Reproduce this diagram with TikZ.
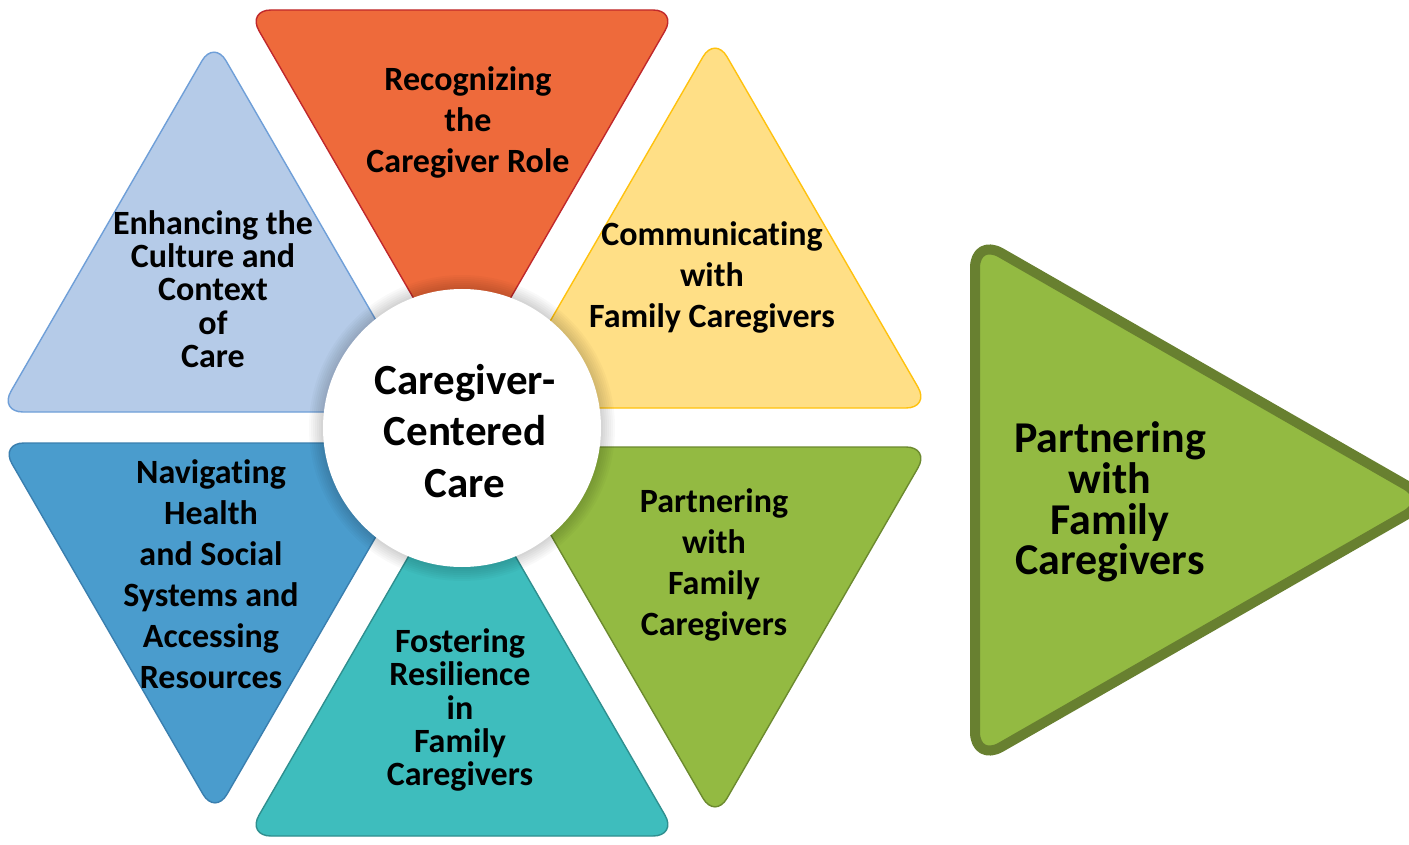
\documentclass[tikz,border=0pt]{standalone}
\usepackage{fontspec}
\setmainfont{Carlito}[Ligatures=NoCommon]
\definecolor{orangeF}{HTML}{EE6A3B}
\definecolor{orangeD}{HTML}{C0282B}
\definecolor{yellowF}{HTML}{FFDF86}
\definecolor{yellowD}{HTML}{FFC20E}
\definecolor{lblueF}{HTML}{B5CBE8}
\definecolor{lblueD}{HTML}{6F9FD8}
\definecolor{blueF}{HTML}{4A9CCD}
\definecolor{blueD}{HTML}{3A7FAF}
\definecolor{tealF}{HTML}{3EBDBD}
\definecolor{tealD}{HTML}{2F8F8F}
\definecolor{greenF}{HTML}{93BA42}
\definecolor{greenD}{HTML}{6C8A2F}
\definecolor{bigD}{HTML}{688030}
\begin{document}
\begin{tikzpicture}[x=1pt,y=-1pt,
  tri/.style={line width=1.4pt, rounded corners=24pt, line join=round},
  lbl/.style={font=\bfseries\fontsize{34}{41}\selectfont, align=center, text=black, inner sep=0pt},
  lbltight/.style={font=\bfseries\fontsize{34}{33.4}\selectfont, align=center, text=black, inner sep=0pt}]
\fill[white] (0,0) rectangle (1409,845);
\useasboundingbox (0,0) rectangle (1409,845);
% triangles
\draw[tri, fill=orangeF, draw=orangeD] (247,10) -- (677,10) -- (462,382) -- cycle;
\draw[tri, fill=yellowF, draw=yellowD] (715,36) -- (930,408) -- (500,408) -- cycle;
\draw[tri, fill=lblueF, draw=lblueD] (214,40) -- (429,412) -- (-1,412) -- cycle;
\draw[tri, fill=blueF, draw=blueD] (0,443) -- (430,443) -- (215,815) -- cycle;
\draw[tri, fill=tealF, draw=tealD] (462,464) -- (677,836) -- (247,836) -- cycle;
\draw[tri, fill=greenF, draw=greenD] (500,447) -- (930,447) -- (715,819) -- cycle;
% hub glow
\foreach \r in {153,151,...,139} {\fill[black, opacity=0.025] (462,428) circle[radius=\r];}
\node[circle, fill=white, minimum size=278pt, inner sep=0pt] (hub) at (462,428) {};
\node[font=\bfseries\fontsize{43}{51.5}\selectfont, align=center, inner sep=0pt] (hubtext) at (465,431) {Caregiver-\\Centered\\Care};
% big arrow
\draw[line width=10pt, rounded corners=30pt, line join=round, fill=greenF, draw=bigD] (975,238) -- (1432,500) -- (975,762) -- cycle;
\node[font=\bfseries\fontsize{44}{40.7}\selectfont, align=center, inner sep=0pt] (bigtext) at (1110,502) {Partnering\\with\\Family\\Caregivers};
% labels
\node[lbl] (recog) at (468,122) {Recognizing\\the\\Caregiver Role};
\node[lbltight] (enh) at (213,289) {Enhancing the\\Culture and\\Context\\of\\Care};
\node[lbl] (comm) at (712,277) {Communicating\\with\\Family Caregivers};
\node[lbl] (nav) at (211,574) {Navigating\\Health\\and Social\\Systems and\\Accessing\\Resources};
\node[lbltight] (fost) at (460,710) {Fostering\\Resilience\\in\\Family\\Caregivers};
\node[lbl] (part) at (714,565) {Partnering\\with\\Family\\Caregivers};
\end{tikzpicture}
\end{document}
